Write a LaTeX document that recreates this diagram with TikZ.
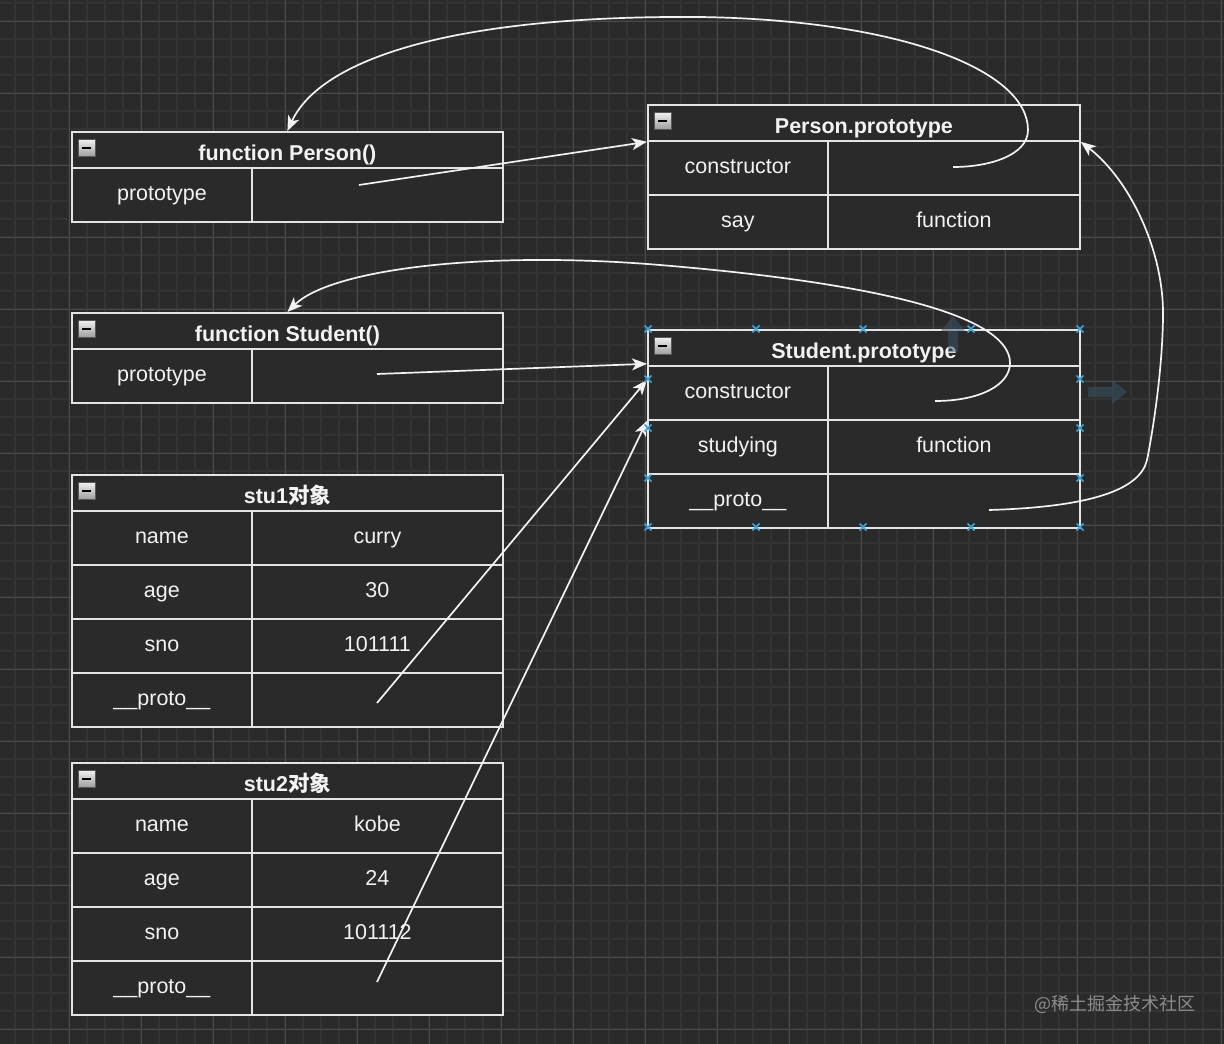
\documentclass[tikz,border=0pt]{standalone}
\usepackage{fontspec}
\setmainfont{Liberation Sans}
\newfontfamily\cjk{Noto Sans CJK SC}
\usetikzlibrary{arrows.meta,calc}
\definecolor{bg}{HTML}{2A2A2A}
\definecolor{gridminor}{HTML}{333333}
\definecolor{gridmajor}{HTML}{4A4A4A}
\definecolor{lineC}{HTML}{E4E4E4}
\definecolor{txt}{HTML}{F2F2F2}
\definecolor{sel}{HTML}{3AA6DD}
\definecolor{hov}{HTML}{3A5868}
\definecolor{wm}{HTML}{8C8C8C}
\tikzset{
  box/.style={draw=lineC, fill=bg, line width=1.8pt, anchor=north west, inner sep=0pt, text=txt},
  hdr/.style={box, minimum height=36, text height=22, text depth=0, font=\bfseries\fontsize{21.5}{25}\selectfont},
  cellbox/.style={box, minimum height=54, text height=12, text depth=0, font=\fontsize{21.5}{25}\selectfont},
  arr/.style={draw=white!95!black, line width=1.7pt, -{Stealth[length=15pt,width=12pt,inset=4pt]}},
  selmark/.style={draw=sel, line width=1.5pt},
  hoverarr/.style={fill=hov, opacity=0.5}
}
\newcommand\mkhdr[5]{%
  \node[hdr, minimum width=#4] (#1) at (#2,#3) {#5};
  \draw[draw=gray!70!black, top color=white!90!gray, bottom color=gray!75, line width=0.8pt] (#2+7,#3+8) rectangle (#2+24,#3+25);
  \draw[black, line width=2pt] (#2+11,#3+17) -- (#2+20,#3+17);
}
\newcommand\mkrow[7]{%
  \node[cellbox, minimum width=#6] (#1l) at (#2,#3) {#4};
  \node[cellbox, minimum width=#7] (#1r) at (#2+#6,#3) {#5};
}
\newcommand\selx[2]{%
  \draw[selmark] (#1-3.5,#2-3.5) -- (#1+3.5,#2+3.5) (#1-3.5,#2+3.5) -- (#1+3.5,#2-3.5);
}
\begin{document}
\begin{tikzpicture}[x=1pt,y=-1pt]
\useasboundingbox (0,0) rectangle (1224,1044);
\fill[bg] (0,0) rectangle (1224,1044);
% grid
\foreach \x in {15,33,...,1224} \draw[gridminor, line width=1.6pt] (\x,0) -- (\x,1044);
\foreach \y in {3,21,...,1044} \draw[gridminor, line width=1.6pt] (0,\y) -- (1224,\y);
\foreach \x in {69,141,...,1224} \draw[gridmajor, line width=0.9pt] (\x,0) -- (\x,1044);
\foreach \y in {21,93,...,1044} \draw[gridmajor, line width=0.9pt] (0,\y) -- (1224,\y);

% function Person()
\mkhdr{PH}{71}{131}{431}{function Person()}
\mkrow{PR}{71}{167}{prototype}{}{180}{251}
% Person.prototype
\mkhdr{PPH}{647}{104}{432}{Person.prototype}
\mkrow{PP1}{647}{140}{constructor}{}{180}{252}
\mkrow{PP2}{647}{194}{say}{function}{180}{252}
% function Student()
\mkhdr{SH}{71}{312}{431}{function Student()}
\mkrow{SR}{71}{348}{prototype}{}{180}{251}
% Student.prototype
\mkhdr{SPH}{647}{329}{432}{Student.prototype}
\mkrow{SP1}{647}{365}{constructor}{}{180}{252}
\mkrow{SP2}{647}{419}{studying}{function}{180}{252}
\mkrow{SP3}{647}{473}{\_\_proto\_\_}{}{180}{252}
% stu1
\mkhdr{AH}{71}{474}{431}{stu1{\cjk 对象}}
\mkrow{A1}{71}{510}{name}{curry}{180}{251}
\mkrow{A2}{71}{564}{age}{30}{180}{251}
\mkrow{A3}{71}{618}{sno}{101111}{180}{251}
\mkrow{A4}{71}{672}{\_\_proto\_\_}{}{180}{251}
% stu2
\mkhdr{BH}{71}{762}{431}{stu2{\cjk 对象}}
\mkrow{B1}{71}{798}{name}{kobe}{180}{251}
\mkrow{B2}{71}{852}{age}{24}{180}{251}
\mkrow{B3}{71}{906}{sno}{101112}{180}{251}
\mkrow{B4}{71}{960}{\_\_proto\_\_}{}{180}{251}

% hover arrows
\fill[hoverarr] (948,352) -- (958,352) -- (958,331) -- (965,331) -- (953,316) -- (941,331) -- (948,331) -- cycle;
\fill[hoverarr] (1088,387) -- (1112,387) -- (1112,380) -- (1127,392) -- (1112,404) -- (1112,397) -- (1088,397) -- cycle;

% connectors
\coordinate (s1) at (359,185);
\coordinate (s2) at (953,167);
\coordinate (s3) at (377,374);
\coordinate (s4) at (935,401);
\coordinate (s5) at (989,510);
\coordinate (s6) at (377,703);
\coordinate (s7) at (377,982);
\draw[arr] (s1) -- (PPH.south west);
\draw[arr] (s3) -- ($(SPH.south west)+(0,-3)$);
\draw[arr] (s6) -- ($(SP1l.north west)+(0,15)$);
\draw[arr] (s7) -- (SP1l.south west);
\draw[arr] (s2) .. controls (990,167) and (1028,155) .. (1028,130)
  .. controls (1028,70) and (900,20) .. (700,17)
  .. controls (450,15) and (320,60) .. (PH.north);
\draw[arr] (s4) .. controls (980,401) and (1010,385) .. (1010,363)
  .. controls (1010,320) and (900,285) .. (660,265)
  .. controls (480,250) and (330,270) .. (SH.north);
\draw[arr] (s5) .. controls (1090,507) and (1140,490) .. (1147,460)
  .. controls (1155,420) and (1163,360) .. (1163,313)
  .. controls (1163,250) and (1130,180) .. (PPH.south east);

% selection markers
\foreach \x in {648,756,863,971,1080} {\selx{\x}{329}\selx{\x}{527}}
\foreach \y in {379,428,478} {\selx{648}{\y}\selx{1080}{\y}}

% watermark
\node[font=\cjk\fontsize{18}{20}\selectfont, text=wm, anchor=west, inner sep=0pt] (wm) at (1034,1004) {@稀土掘金技术社区};
\end{tikzpicture}
\end{document}
